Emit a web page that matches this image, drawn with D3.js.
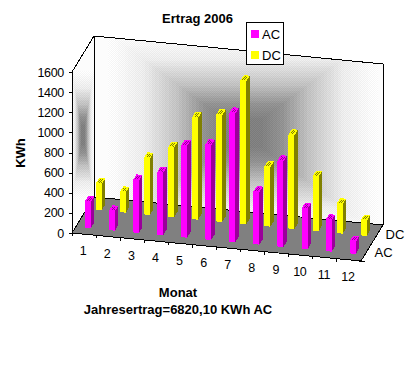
<!DOCTYPE html>
<html>
<head>
<meta charset="utf-8">
<script src="https://cdn.jsdelivr.net/npm/d3@7"></script>
<style>
    html, body { margin: 0; padding: 0; background: #fff; }
    svg { display: block; }
    text { font-family: "Liberation Sans", Arial, sans-serif; font-size: 13px; fill: #000; }
    .tick-label { font-size: 12.5px; letter-spacing: -0.3px; }
    .bold { font-weight: bold; }
</style>
</head>
<body>
<svg id="chart" width="420" height="369"></svg>
<script>
const months = ['1', '2', '3', '4', '5', '6', '7', '8', '9', '10', '11', '12'];
const seriesNames = ['AC', 'DC'];
const acValues = [260, 190, 520, 620, 910, 940, 1280, 520, 850, 400, 310, 120];
const dcValues = [260, 200, 560, 690, 1010, 1060, 1420, 590, 930, 540, 290, 150];
const yTicks = [0, 200, 400, 600, 800, 1000, 1200, 1400, 1600];

const title = 'Ertrag 2006';
const yTitle = 'KWh';
const xTitle = ['Monat', 'Jahresertrag=6820,10 KWh AC'];

// plot box corners on screen
const ORIGIN = [72, 233];
const EDGE = [289, 28];    // along the months
const DEPTH = [22, -36];   // front to back
const BAR = { w: 6 / 24, d: 0.16 };

const colors = {
    AC: { face: '#ff00ff', side: '#9a009a' },
    DC: { face: '#ffff00', side: '#808000' }
};

const monthScale = d3.scaleBand().domain(months).range([0, 1]);
const seriesScale = d3.scaleBand().domain(seriesNames).range([0, 1]);
const valueScale = d3.scaleLinear().domain([0, 1600]).range([0, 161]);

function project(m, s, v) {
    return [
        ORIGIN[0] + m * EDGE[0] + s * DEPTH[0],
        ORIGIN[1] + m * EDGE[1] + s * DEPTH[1] - valueScale(v)
    ];
}
const poly = pts => pts.map(p => p.join(',')).join(' ');

const $svg = d3.select('#chart');
const defs = $svg.append('defs');

function checker(id, a, b) {
    const p = defs.append('pattern').attr('id', id)
        .attr('width', 2).attr('height', 2).attr('patternUnits', 'userSpaceOnUse');
    p.append('rect').attr('width', 2).attr('height', 2).attr('fill', a);
    p.append('rect').attr('width', 1).attr('height', 1).attr('fill', b);
    p.append('rect').attr('x', 1).attr('y', 1).attr('width', 1).attr('height', 1).attr('fill', b);
}

// walls
const wallBack = [project(0, 1, 1600), project(1, 1, 1600), project(1, 1, 0), project(0, 1, 0)];
const wallLeft = [project(0, 0, 1600), project(0, 1, 1600), project(0, 1, 0), project(0, 0, 0)];
const floor = [project(0, 0, 0), project(1, 0, 0), project(1, 1, 0), project(0, 1, 0)];

defs.append('clipPath').attr('id', 'clip-back').append('polygon').attr('points', poly(wallBack));
defs.append('clipPath').attr('id', 'clip-left').append('polygon').attr('points', poly(wallLeft));

const shade = d3.scaleLinear()
    .domain([0.15, 0.3, 0.5, 0.75, 1])
    .range([128, 146, 194, 236, 252])
    .clamp(true);
const grey = v => d3.rgb(v, v, v).formatHex();

// nested rectangles, each one a small dither of two greys
const shadeSteps = d3.range(1, 0.14, -0.025);
shadeSteps.forEach((d, i) => {
    const v = shade(d);
    checker(`shade-${i}`, grey(v - 5), grey(Math.min(255, v + 5)));
});

function drawGradient(clipId, cx, cy, hw, hh) {
    const g = $svg.append('g').attr('clip-path', `url(#${clipId})`).attr('shape-rendering', 'crispEdges');
    g.selectAll('rect')
        .data(shadeSteps)
        .enter().append('rect')
        .attr('x', d => cx - hw * d)
        .attr('y', d => cy - hh * d)
        .attr('width', d => 2 * hw * d)
        .attr('height', d => 2 * hh * d)
        .attr('fill', (d, i) => `url(#shade-${i})`);
}

$svg.append('polygon').attr('points', poly(wallBack)).attr('fill', '#fcfcfc');
drawGradient('clip-back', 243, 133, 135, 100);
$svg.append('polygon').attr('points', poly(wallLeft)).attr('fill', '#fcfcfc');
drawGradient('clip-left', 83, 135, 11, 64);

$svg.append('polygon')
    .attr('points', poly(floor))
    .attr('fill', '#808080')
    .attr('stroke', '#000')
    .attr('shape-rendering', 'crispEdges');

const frame = $svg.append('g')
    .attr('fill', 'none')
    .attr('stroke', '#000')
    .attr('shape-rendering', 'crispEdges');
frame.append('polyline').attr('points', poly([project(0, 0, 0), project(0, 0, 1600), project(0, 1, 1600), project(1, 1, 1600), project(1, 1, 0)]));
frame.append('line')
    .attr('x1', project(0, 1, 0)[0]).attr('y1', project(0, 1, 0)[1])
    .attr('x2', project(0, 1, 1600)[0]).attr('y2', project(0, 1, 1600)[1]);

// y axis
const yAxis = $svg.append('g').selectAll('g').data(yTicks).enter().append('g');
yAxis.append('line')
    .attr('x1', ORIGIN[0] - 3).attr('x2', ORIGIN[0])
    .attr('y1', d => Math.round(project(0, 0, d)[1]))
    .attr('y2', d => Math.round(project(0, 0, d)[1]))
    .attr('stroke', '#000')
    .attr('shape-rendering', 'crispEdges');
yAxis.append('text')
    .attr('class', 'tick-label')
    .attr('x', ORIGIN[0] - 8)
    .attr('y', d => project(0, 0, d)[1] + 4.5)
    .attr('text-anchor', 'end')
    .text(d => d);

// month axis
const xAxis = $svg.append('g').selectAll('g').data(months).enter().append('g');
xAxis.append('line')
    .each(function (d) {
        const p = project(monthScale(d), 0, 0);
        d3.select(this)
            .attr('x1', p[0]).attr('y1', p[1])
            .attr('x2', p[0]).attr('y2', p[1] + 3);
    })
    .attr('stroke', '#000')
    .attr('shape-rendering', 'crispEdges');
xAxis.append('text')
    .attr('class', 'tick-label')
    .attr('x', d => project(monthScale(d) + monthScale.bandwidth() / 2, 0, 0)[0] - 1)
    .attr('y', d => project(monthScale(d) + monthScale.bandwidth() / 2, 0, 0)[1] + 21)
    .attr('text-anchor', 'middle')
    .text(d => d);

// series axis
$svg.append('g').selectAll('text')
    .data(seriesNames)
    .enter().append('text')
    .attr('x', d => project(1, seriesScale(d) + seriesScale.bandwidth() / 2, 0)[0] + 8)
    .attr('y', d => project(1, seriesScale(d) + seriesScale.bandwidth() / 2, 0)[1] + 5)
    .text(d => d);
const cornerTick = project(1, 0, 0);
$svg.append('line')
    .attr('x1', cornerTick[0] - 2).attr('y1', cornerTick[1])
    .attr('x2', cornerTick[0] + 4).attr('y2', cornerTick[1])
    .attr('stroke', '#000')
    .attr('shape-rendering', 'crispEdges');

// bars
const rows = [];
seriesNames.slice().reverse().forEach(s => {
    const values = s === 'AC' ? acValues : dcValues;
    months.forEach((m, i) => rows.push({ series: s, month: m, value: values[i] }));
});

checker('cap-AC', colors.AC.side, colors.AC.face);
checker('cap-DC', colors.DC.side, colors.DC.face);

const bars = $svg.append('g').attr('shape-rendering', 'crispEdges')
    .selectAll('g').data(rows).enter().append('g');

function corners(d, v) {
    const mc = monthScale(d.month) + monthScale.bandwidth() / 2;
    const sc = seriesScale(d.series) + seriesScale.bandwidth() / 2;
    // BAR.w is relative to one month band
    const mw = BAR.w * monthScale.bandwidth() / 2;
    const fl = project(mc - mw, sc - BAR.d / 2, v);
    const fr = project(mc + mw, sc - BAR.d / 2, v);
    const br = project(mc + mw, sc + BAR.d / 2, v);
    const bl = project(mc - mw, sc + BAR.d / 2, v);
    return { fl, fr, br, bl };
}

bars.append('polygon') // right side
    .attr('fill', d => colors[d.series].side)
    .attr('points', d => {
        const t = corners(d, d.value), b = corners(d, 0);
        return poly([t.fr, t.br, b.br, b.fr]);
    });
bars.append('polygon') // front
    .attr('fill', d => colors[d.series].face)
    .attr('points', d => {
        const t = corners(d, d.value), b = corners(d, 0);
        return poly([t.fl, t.fr, b.fr, b.fl]);
    });
bars.append('polygon') // top
    .attr('fill', d => colors[d.series].face)
    .attr('points', d => {
        const t = corners(d, d.value);
        return poly([t.fl, t.fr, t.br, t.bl]);
    });
bars.append('polygon') // top, inner
    .attr('fill', d => `url(#cap-${d.series})`)
    .attr('points', d => {
        const t = corners(d, d.value);
        const c = [(t.fl[0] + t.br[0]) / 2, (t.fl[1] + t.br[1]) / 2];
        return poly([t.fl, t.fr, t.br, t.bl].map(p => [c[0] + (p[0] - c[0]) * 0.6, c[1] + (p[1] - c[1]) * 0.6]));
    });

// titles
$svg.append('text').attr('class', 'bold').attr('x', 197.5).attr('y', 23).attr('text-anchor', 'middle').text(title);
$svg.append('text').attr('class', 'bold')
    .attr('transform', 'translate(25,153) rotate(-90)')
    .attr('text-anchor', 'middle')
    .text(yTitle);
$svg.append('g').selectAll('text').data(xTitle).enter().append('text')
    .attr('class', 'bold')
    .attr('x', 178)
    .attr('y', (d, i) => 297 + i * 17)
    .attr('text-anchor', 'middle')
    .text(d => d);

// legend
const legend = $svg.append('g');
legend.append('rect')
    .attr('x', 246.5).attr('y', 22.5).attr('width', 37).attr('height', 42)
    .attr('fill', '#fff').attr('stroke', '#000')
    .attr('shape-rendering', 'crispEdges');
const legendY = d3.scalePoint().domain(seriesNames).range([34, 55]);
const legendItem = legend.selectAll('g.item').data(seriesNames).enter().append('g').attr('class', 'item');
legendItem.append('rect')
    .attr('x', 251).attr('y', d => legendY(d) - 4).attr('width', 8).attr('height', 8)
    .attr('fill', d => colors[d].face);
legendItem.append('text')
    .attr('x', 262).attr('y', d => legendY(d) + 4.5)
    .text(d => d);
</script>
</body>
</html>
